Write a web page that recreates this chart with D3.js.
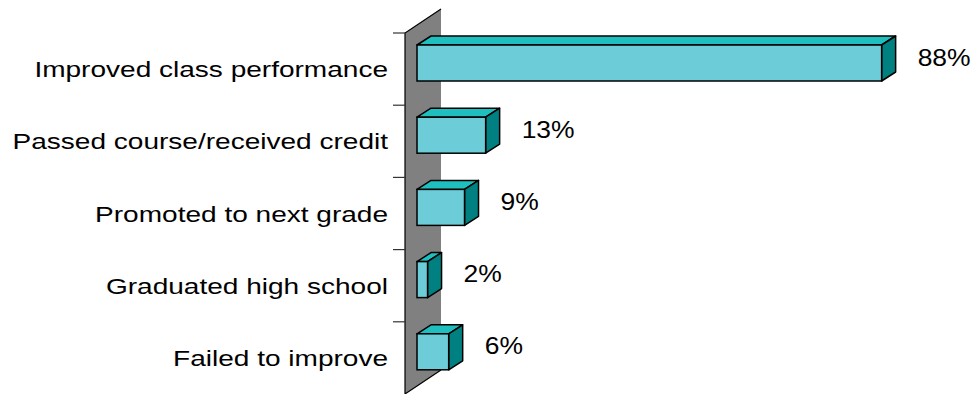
<!DOCTYPE html>
<html>
<head>
<meta charset="utf-8">
<script src="https://cdn.jsdelivr.net/npm/d3@7"></script>
<style>
  body { margin: 0; background: #fff; }
  text { font-family: Arial, "Liberation Sans", sans-serif; fill: #000; }
</style>
</head>
<body>
<svg id="chart" width="974" height="394"></svg>
<script>
// data
const categories = [
  "Improved class performance",
  "Passed course/received credit",
  "Promoted to next grade",
  "Graduated high school",
  "Failed to improve"
];
const values = [88, 13, 9, 2, 6];
const valueLabels = values.map(v => `${v}%`);

const data = categories.map((c, i) => ({ cat: c, value: values[i], label: valueLabels[i] }));

// layout
const barDx = 14, barDy = -9;      // bar depth
const wallDx = 36, wallDy = -24;   // wall depth
const wallFront = 405;

const svg = d3.select("#chart");

const xScale = d3.scaleLinear().domain([0, 100]).range([417, 945]);
const yScale = d3.scaleBand().domain(categories).range([33, 394]);

// Back wall (gray, in perspective)
const wallTop = yScale.range()[0];
const wallBottom = yScale.range()[1];
svg.append("polygon")
  .attr("points", [
    [wallFront, wallTop],
    [wallFront + wallDx, wallTop + wallDy],
    [wallFront + wallDx, wallBottom + wallDy],
    [wallFront, wallBottom]
  ].join(" "))
  .attr("fill", "#808080");

svg.append("path")
  .attr("d", `M${wallFront + wallDx},${wallTop + wallDy} L${wallFront},${wallTop} L${wallFront},${wallBottom}
              M${wallFront},${wallBottom} L${wallFront + wallDx},${wallBottom + wallDy}`)
  .attr("fill", "none")
  .attr("stroke", "#000")
  .attr("stroke-width", 1.2);

// Tick marks on band boundaries
const tickYs = categories.map(c => yScale(c));
svg.selectAll(".tick")
  .data(tickYs)
  .join("line")
    .attr("class", "tick")
    .attr("x1", wallFront - 12)
    .attr("x2", wallFront)
    .attr("y1", d => d)
    .attr("y2", d => d)
    .attr("stroke", "#333")
    .attr("stroke-width", 1.2);

// Category labels (stretched horizontally like the original)
svg.selectAll(".cat")
  .data(data)
  .join("text")
    .attr("class", "cat")
    .attr("transform", d => `translate(388, ${yScale(d.cat) + yScale.bandwidth() / 2 + 8}) scale(1.275, 1)`)
    .attr("text-anchor", "end")
    .style("font-size", "22px")
    .text(d => d.cat);

// 3D bars
const faceTop = d => yScale(d.cat) + 12;
const faceH = 36;
const x0 = xScale(0);

const bars = svg.selectAll(".bar")
  .data(data)
  .join("g")
    .attr("class", "bar");

// top face
bars.append("polygon")
  .attr("points", d => {
    const x1 = xScale(d.value), y = faceTop(d);
    return [[x0, y], [x0 + barDx, y + barDy], [x1 + barDx, y + barDy], [x1, y]].join(" ");
  })
  .attr("fill", "#1fbfbf")
  .attr("stroke", "#000")
  .attr("stroke-width", 1.5)
  .attr("stroke-linejoin", "round");

// side face
bars.append("polygon")
  .attr("points", d => {
    const x1 = xScale(d.value), y = faceTop(d);
    return [[x1, y], [x1 + barDx, y + barDy], [x1 + barDx, y + barDy + faceH], [x1, y + faceH]].join(" ");
  })
  .attr("fill", "#008080")
  .attr("stroke", "#000")
  .attr("stroke-width", 1.5)
  .attr("stroke-linejoin", "round");

// front face
bars.append("rect")
  .attr("x", x0)
  .attr("y", d => faceTop(d))
  .attr("width", d => xScale(d.value) - x0)
  .attr("height", faceH)
  .attr("fill", "#6ccdd9")
  .attr("stroke", "#000")
  .attr("stroke-width", 1.5);

// Value labels
svg.selectAll(".val")
  .data(data)
  .join("text")
    .attr("class", "val")
    .attr("transform", d => `translate(${xScale(d.value) + barDx + 22}, ${yScale(d.cat) + yScale.bandwidth() / 2 - 3.5}) scale(1.15, 1)`)
    .style("font-size", "23px")
    .text(d => d.label);
</script>
</body>
</html>
